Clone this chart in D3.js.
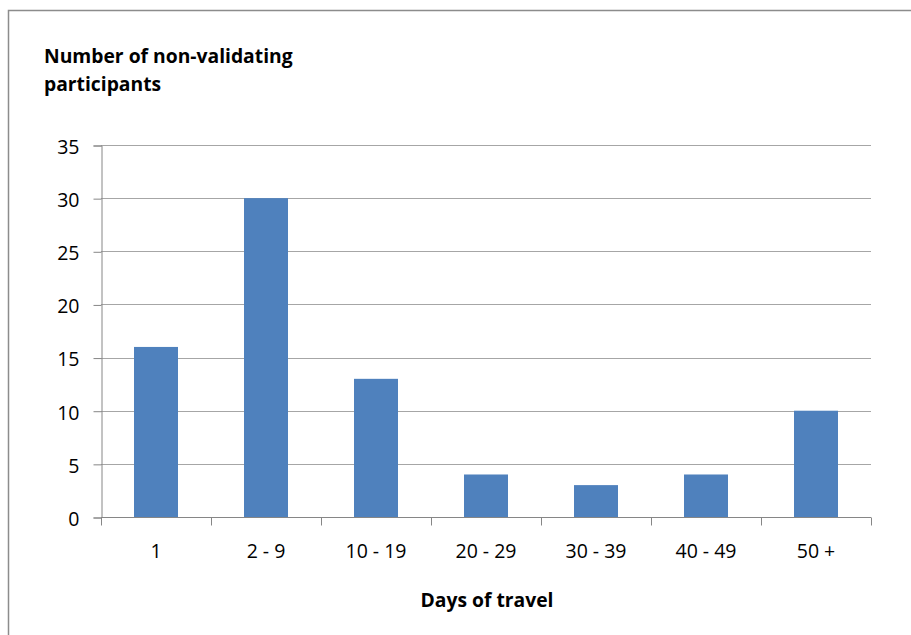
<!DOCTYPE html>
<html>
<head>
<meta charset="utf-8">
<script src="https://cdn.jsdelivr.net/npm/d3@7"></script>
<style>
  html, body { margin: 0; padding: 0; background: #fff; }
  svg { display: block; }
  text { font-family: "Open Sans", "Noto Sans", sans-serif; fill: #000; }
</style>
</head>
<body>
<script>
// Days-of-travel buckets and participant counts
const categories = ["1", "2 - 9", "10 - 19", "20 - 29", "30 - 39", "40 - 49", "50 +"];
const counts = [16, 30, 13, 4, 3, 4, 10];
const yTicks = [0, 5, 10, 15, 20, 25, 30, 35];
const yTitleLines = ["Number of non-validating", "participants"];
const xTitle = "Days of travel";

const W = 911, H = 635;
const plot = { left: 101, right: 871, top: 145, bottom: 517 };
const tickFont = 19.5, titleFont = 19.3;

const svg = d3.select("body").append("svg")
  .attr("width", W).attr("height", H);

// outer chart frame
svg.append("rect")
  .attr("x", 8.5).attr("y", 10.5)
  .attr("width", W + 10).attr("height", H + 10)
  .attr("fill", "none").attr("stroke", "#8c8c8c").attr("stroke-width", 1.5);

const x = d3.scaleBand().domain(categories)
  .range([plot.left, plot.right]).paddingInner(0.6).paddingOuter(0.3);
const xOuter = d3.scaleBand().domain(categories)
  .range([plot.left, plot.right]);
const y = d3.scaleLinear().domain([0, 35]).range([plot.bottom, plot.top]);

// horizontal gridlines
svg.append("g").selectAll("line").data(yTicks.filter(d => d > 0)).join("line")
  .attr("x1", plot.left).attr("x2", plot.right)
  .attr("y1", d => Math.round(y(d)) + 0.5).attr("y2", d => Math.round(y(d)) + 0.5)
  .attr("stroke", "#a6a6a6").attr("stroke-width", 1);

// bars
svg.append("g").selectAll("rect").data(counts).join("rect")
  .attr("x", (d, i) => x(categories[i]))
  .attr("width", x.bandwidth())
  .attr("y", d => y(d))
  .attr("height", d => y(0) - y(d))
  .attr("fill", "#4f81bd");

// y axis
const yAxis = d3.axisLeft(y).tickValues(yTicks).tickSize(8).tickPadding(14);
const gy = svg.append("g")
  .attr("transform", `translate(${plot.left + 0.5},0.5)`)
  .call(yAxis);
gy.select(".domain").attr("stroke", "#868686");
gy.selectAll(".tick line").attr("stroke", "#868686");
gy.selectAll(".tick text").attr("font-size", tickFont)
  .attr("font-family", "Open Sans, sans-serif").attr("fill", "#000")
  .attr("dy", "0.4em");

// x axis: ticks at category boundaries, labels centred in each band
const gx = svg.append("g").attr("transform", `translate(0,${plot.bottom + 0.5})`);
gx.append("line").attr("x1", plot.left).attr("x2", plot.right)
  .attr("stroke", "#868686");
const bounds = categories.map(c => xOuter(c)).concat([plot.right]);
gx.selectAll("line.tk").data(bounds).join("line").attr("class", "tk")
  .attr("x1", d => Math.round(d) + 0.5).attr("x2", d => Math.round(d) + 0.5)
  .attr("y1", 0).attr("y2", 8).attr("stroke", "#868686");
gx.selectAll("text").data(categories).join("text")
  .attr("x", d => xOuter(d) + xOuter.bandwidth() / 2)
  .attr("y", 40)
  .attr("text-anchor", "middle")
  .attr("font-size", tickFont)
  .text(d => d);

// axis titles
svg.append("text")
  .attr("x", 44).attr("y", 63)
  .attr("font-size", titleFont).attr("font-weight", "bold")
  .selectAll("tspan").data(yTitleLines).join("tspan")
  .attr("x", 44).attr("dy", (d, i) => i === 0 ? 0 : 28)
  .text(d => d);

svg.append("text")
  .attr("x", (plot.left + plot.right) / 2 + 1).attr("y", 607)
  .attr("text-anchor", "middle")
  .attr("font-size", titleFont).attr("font-weight", "bold")
  .text(xTitle);
</script>
</body>
</html>
